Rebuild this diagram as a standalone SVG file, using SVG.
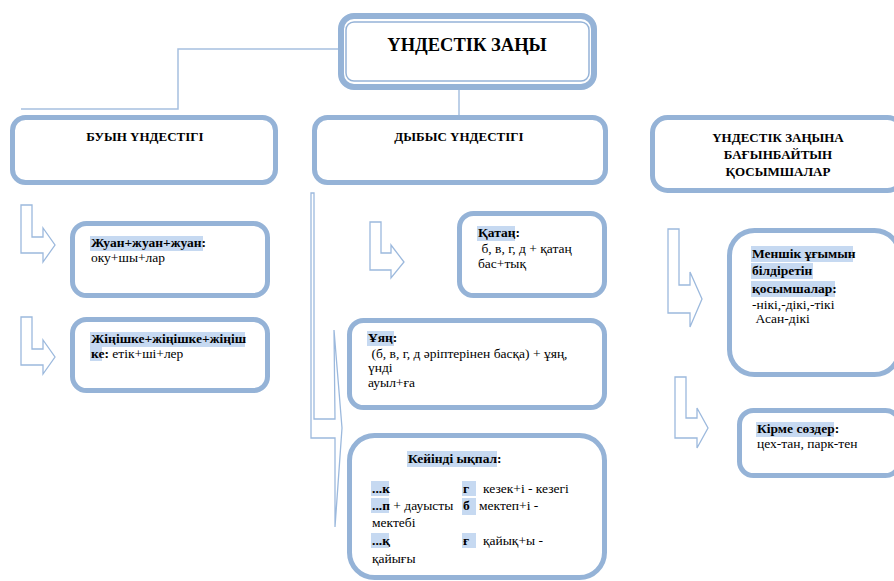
<svg xmlns="http://www.w3.org/2000/svg" width="894" height="581" viewBox="0 0 894 581">
<style>
.box{fill:#fff;stroke:#95b3d7;stroke-width:5}
.thin{fill:none;stroke:#95b3d7;stroke-width:1.5}
.arr{fill:#fff;stroke:#9cb9dd;stroke-width:1.3;stroke-linejoin:miter}
.con{fill:none;stroke:#a7c0e0;stroke-width:1.5}
.hl{fill:#c6d9f1}
text{font-family:"Liberation Serif","Times New Roman",serif;fill:#000}
.t{font-size:13.5px}
.b{font-weight:bold}
.h{font-size:13px;font-weight:bold;text-anchor:middle}
</style>
<rect width="894" height="581" fill="#fff"/>
<g id="connectors">
<polyline class="con" points="338,49 178,49 178,109 21,109"/>
<line class="con" x1="459" y1="90" x2="459" y2="115"/>
</g>
<g id="arrows">
<polygon class="arr" points="21,205 32,205 32,237 43,237 43,228 55,245 43,262 43,253 21,253"/>
<polygon class="arr" points="21,317 32,317 32,349 43,349 43,340 55,357 43,374 43,365 21,365"/>
<polygon class="arr" points="370,222 381,222 381,253 391,253 391,245 404,262 391,278 391,270 370,270"/>
<polygon class="arr" points="311,193 314,193 314,419 335,419 334,330 342,428 335,527 335,438 311,438"/>
<polygon class="arr" points="668,229 679,229 679,285 690,285 690,272 702,299 690,327 690,313 668,313"/>
<polygon class="arr" points="675,377 686,377 686,418 697,418 697,408 708,428 697,448 697,438 675,438"/>
</g>
<g id="title">
<rect class="box" x="341" y="16" width="253" height="71" rx="13" style="stroke-width:6"/>
<rect class="thin" x="346" y="22" width="243" height="59" rx="8"/>
<text x="467" y="51" class="b" style="font-size:18.5px" text-anchor="middle">ҮНДЕСТІК ЗАҢЫ</text>
</g>
<g id="buyn">
<rect class="box" x="12.5" y="117.5" width="263" height="65" rx="13"/>
<text x="145" y="141" class="h">БУЫН ҮНДЕСТІГІ</text>
</g>
<g id="dybys">
<rect class="box" x="314.5" y="117.5" width="291" height="65" rx="13"/>
<text x="459" y="141" class="h">ДЫБЫС ҮНДЕСТІГІ</text>
</g>
<g id="bagynbaityn">
<rect class="box" x="652.5" y="117.5" width="250" height="73" rx="15"/>
<text x="778" y="142" class="h">ҮНДЕСТІК ЗАҢЫНА</text>
<text x="778" y="159" class="h">БАҒЫНБАЙТЫН</text>
<text x="778" y="176" class="h">ҚОСЫМШАЛАР</text>
</g>
<g id="zhuan">
<rect class="box" x="72.5" y="223.5" width="195" height="72" rx="14"/>
<rect class="hl" x="90" y="236" width="113" height="15"/>
<text x="91" y="247" class="t b">Жуан+жуан+жуан:</text>
<text x="91" y="262" class="t">оку+шы+лар</text>
</g>
<g id="zhinishke">
<rect class="box" x="72.5" y="319.5" width="195" height="71" rx="14"/>
<rect class="hl" x="90" y="332" width="155" height="15"/>
<rect class="hl" x="90" y="347" width="12" height="14"/>
<text x="91" y="343" class="t b">Жіңішке+жіңішке+жіңіш</text>
<text x="91" y="358" class="t"><tspan class="b">ке:</tspan> етік+ші+лер</text>
</g>
<g id="katan">
<rect class="box" x="459.5" y="213.5" width="145" height="82" rx="14"/>
<rect class="hl" x="477" y="226" width="38" height="15"/>
<text x="478" y="237" class="t b">Қатаң:</text>
<text x="481.5" y="253" class="t">б, в, г, д + қатаң</text>
<text x="478" y="268" class="t">бас+тық</text>
</g>
<g id="uyan">
<rect class="box" x="349.5" y="320.5" width="255" height="87" rx="14"/>
<rect class="hl" x="367" y="331" width="27" height="15"/>
<text x="368" y="342" class="t b">Ұяң:</text>
<text x="371.5" y="358" class="t">(б, в, г, д әріптерінен басқа) + ұяң,</text>
<text x="368" y="372" class="t">үнді</text>
<text x="368" y="387" class="t">ауыл+ға</text>
</g>
<g id="keyindi">
<rect class="box" x="349.5" y="435.5" width="255" height="142" rx="25"/>
<rect class="hl" x="407" y="451" width="90" height="16"/>
<text x="408" y="463" class="t b">Кейінді ықпал:</text>
<rect class="hl" x="371" y="481" width="18" height="15"/>
<rect class="hl" x="462" y="481" width="14" height="15"/>
<text x="372" y="493" class="t b">...к</text>
<text x="463" y="493" class="t b">г</text>
<text x="483" y="493" class="t">кезек+і - кезегі</text>
<rect class="hl" x="371" y="498" width="18" height="15"/>
<rect class="hl" x="462" y="498" width="14" height="17"/>
<text x="372" y="510" class="t"><tspan class="b">...п</tspan> + дауысты</text>
<text x="463" y="510" class="t b">б</text>
<text x="479" y="510" class="t">мектеп+і -</text>
<text x="372" y="527" class="t">мектебі</text>
<rect class="hl" x="371" y="533" width="18" height="15"/>
<rect class="hl" x="462" y="533" width="14" height="15"/>
<text x="372" y="545" class="t b">...қ</text>
<text x="463" y="545" class="t b">ғ</text>
<text x="483" y="545" class="t">қайық+ы -</text>
<text x="372" y="563" class="t">қайығы</text>
</g>
<g id="menshik">
<rect class="box" x="729.5" y="230.5" width="170" height="144" rx="25"/>
<rect class="hl" x="751" y="246" width="102" height="16"/>
<rect class="hl" x="751" y="263" width="62" height="16"/>
<rect class="hl" x="751" y="281" width="84" height="16"/>
<text x="752" y="258" class="t b">Меншік ұғымын</text>
<text x="752" y="275" class="t b">білдіретін</text>
<text x="752" y="293" class="t b">қосымшалар:</text>
<text x="752" y="309" class="t">-нікі,-дікі,-тікі</text>
<text x="755.5" y="323" class="t">Асан-дікі</text>
</g>
<g id="kirme">
<rect class="box" x="739.5" y="410.5" width="160" height="65" rx="14"/>
<rect class="hl" x="756" y="422" width="78" height="15"/>
<text x="757" y="433" class="t b">Кірме сөздер:</text>
<text x="757" y="448" class="t">цех-тан, парк-тен</text>
</g>
</svg>
